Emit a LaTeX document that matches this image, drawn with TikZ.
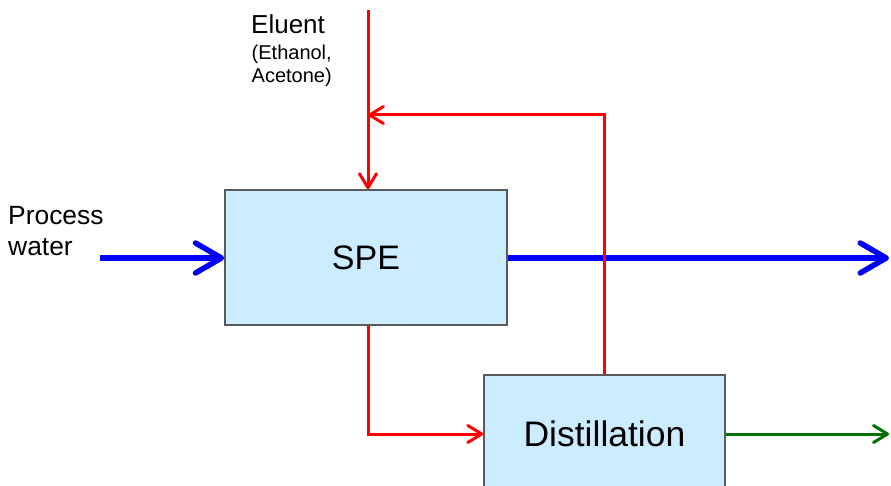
\documentclass[tikz,border=0pt]{standalone}
\usepackage{fontspec}
\setmainfont{Liberation Sans}
\usetikzlibrary{arrows.meta}

\definecolor{boxfill}{RGB}{204,236,255}
\definecolor{boxline}{RGB}{90,90,90}
\definecolor{streamred}{RGB}{255,0,0}
\definecolor{streamblue}{RGB}{0,0,255}
\definecolor{streamgreen}{RGB}{0,112,0}

\tikzset{
  unitbox/.style={draw=boxline, line width=1.5pt, fill=boxfill, inner sep=0pt},
  waterflow/.style={draw=streamblue, line width=5.5pt,
    -{Straight Barb[length=26pt,width=30pt,round]}},
  solventflow/.style={draw=streamred, line width=3pt, line join=miter,
    -{Straight Barb[length=14pt,width=17pt,round]}},
  productflow/.style={draw=streamgreen, line width=3pt,
    -{Straight Barb[length=14pt,width=17pt,round]}},
  label/.style={inner sep=0pt, align=left}
}

\begin{document}
\begin{tikzpicture}[x=1pt, y=-1pt]
  \clip (0,0) rectangle (891,486);
  \fill[white] (0,0) rectangle (891,486);

  % process units
  \node[unitbox, minimum width=282pt, minimum height=135pt,
        font=\fontsize{34}{38}\selectfont] (spe) at (366,257.5) {SPE};
  \node[unitbox, minimum width=241pt, minimum height=118pt,
        font=\fontsize{35.5}{40}\selectfont] (dist) at (604.5,434) {Distillation};

  % free ends of the streams
  \coordinate (win)  at (100,258);
  \coordinate (wout) at (889,258);
  \coordinate (el)   at (368,10);
  \coordinate (rec)  at (368,115);
  \coordinate (dout) at (889,434);

  % water stream
  \draw[waterflow] (win) -- (win -| spe.west);
  \draw[waterflow] (spe.east |- wout) -- (wout);

  % solvent streams
  \draw[solventflow] (el) -- (el |- spe.north);
  \draw[solventflow] (spe.south -| el) -- (el |- dist.west) -- (dist.west);
  \draw[solventflow] (dist.north) -- (dist.north |- rec) -- (rec);

  % product stream
  \draw[productflow] (dist.east) -- (dout);

  % labels (base anchor sits on the last line)
  \node[label, anchor=base west, font=\fontsize{26}{31}\selectfont] (eluent) at (251,34) {Eluent};
  \node[label, anchor=base west, font=\fontsize{20}{23}\selectfont] (solvents) at (251.5,83) {(Ethanol,\\Acetone)};
  \node[label, anchor=base west, font=\fontsize{26.4}{31}\selectfont] (water) at (8,255) {Process\\water};
\end{tikzpicture}
\end{document}
